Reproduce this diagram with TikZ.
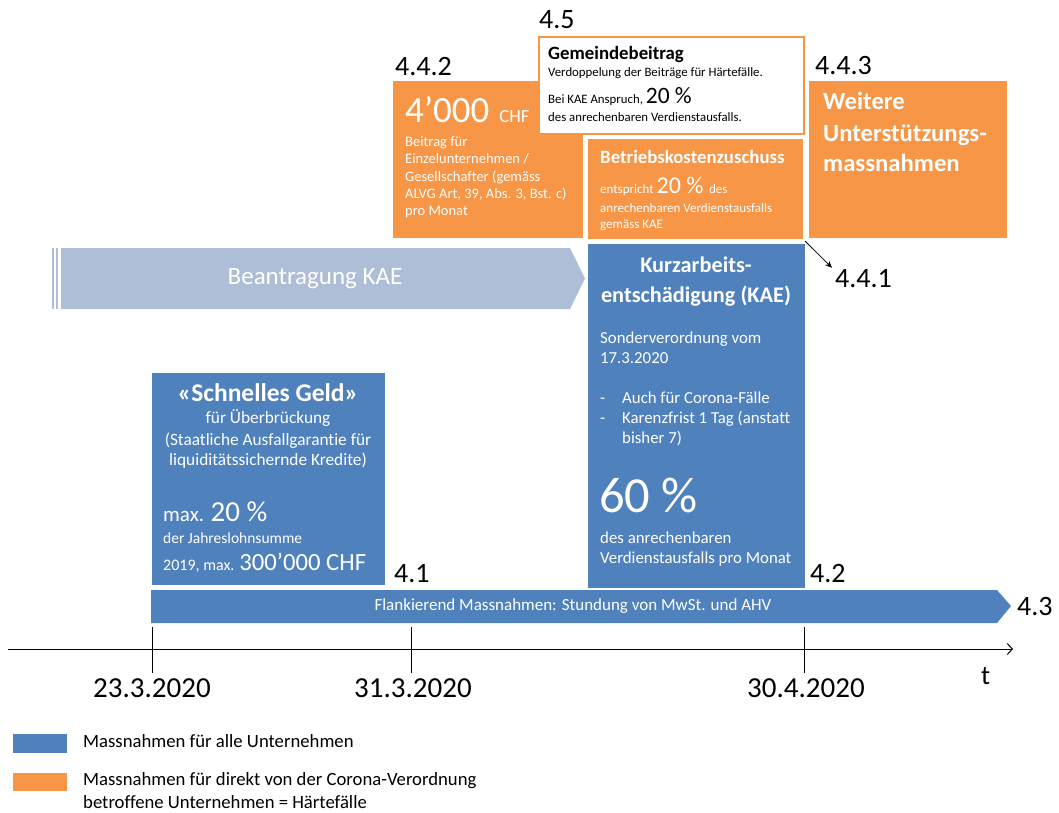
\documentclass[tikz,border=0pt]{standalone}
\usepackage{fontspec}
\setmainfont{Carlito}[Ligatures=NoCommon]
\usetikzlibrary{arrows.meta}
\definecolor{kblue}{HTML}{4F81BD}
\definecolor{korange}{HTML}{F79646}
\definecolor{klight}{HTML}{ADBED6}
\newcommand\fsz[1]{\fontsize{#1}{#1}\selectfont}
\begin{document}
\begin{tikzpicture}[x=1pt,y=-1pt,
  box/.style={draw=white, line width=1pt, inner sep=0pt, anchor=north west},
  obox/.style={box, fill=korange},
  bbox/.style={box, fill=kblue},
  wt/.style={inner sep=0pt, anchor=base west, text=white},
  wc/.style={inner sep=0pt, anchor=base, text=white},
  bt/.style={inner sep=0pt, anchor=base west, text=black},
  lbl/.style={bt, font=\fsz{28}},
  date/.style={inner sep=0pt, anchor=base, font=\fsz{29}},
  leg/.style={bt, font=\fsz{18.7}}]
\useasboundingbox (0,0) rectangle (1059,812);

% ---------- boxes ----------
\node[obox, minimum width=191pt, minimum height=158pt] (b442) at (392,80) {};
\node[box, fill=white, draw=korange, line width=2pt, minimum width=265pt, minimum height=97pt] (b45) at (538,36) {};
\node[obox, minimum width=216pt, minimum height=101pt] (bbk) at (587,138) {};
\node[obox, minimum width=199pt, minimum height=158pt] (b443) at (808,80) {};
\node[bbox, minimum width=218pt, minimum height=345pt] (bkae) at (587,243) {};
\node[bbox, minimum width=234pt, minimum height=213pt] (bsg) at (151,372) {};

% ---------- Beantragung arrow ----------
\fill[klight] (52,248) rectangle (53.5,309);
\fill[klight] (55.5,248) rectangle (58,309);
\fill[klight] (61,248) -- (570,248) -- (585,278.5) -- (570,309) -- (61,309) -- cycle;
\node[inner sep=0pt, text=white, font=\fsz{25}] (tbea) at (315,279) {Beantragung KAE};

% ---------- Flankierend arrow ----------
\fill[kblue] (151,590) -- (997,590) -- (1011,606) -- (997,623) -- (151,623) -- cycle;
\node[inner sep=0pt, text=white, font=\fsz{17}] (tfl) at (573,606) {Flankierend Massnahmen: Stundung von MwSt. und AHV};

% ---------- 4.4.2 text ----------
\node[wt] (t4000) at (405,122) {\fsz{37}4’000\hspace{10pt}\fsz{18.5}CHF};
\node[wt, font=\fsz{14.5}] (t442a) at (405,146) {Beitrag für};
\node[wt, font=\fsz{14.5}] (t442b) at (405,163) {Einzelunternehmen /};
\node[wt, font=\fsz{14.5}] (t442c) at (405,181) {Gesellschafter (gemäss};
\node[wt, font=\fsz{14.5}] (t442d) at (405,198) {ALVG Art, 39, Abs. 3, Bst. c)};
\node[wt, font=\fsz{14.5}] (t442e) at (405,215) {pro Monat};

% ---------- 4.5 text ----------
\node[bt, font=\fsz{18.8}\bfseries] (t45a) at (548,59) {Gemeindebeitrag};
\node[bt, font=\fsz{12.8}] (t45b) at (548,76) {Verdoppelung der Beiträge für Härtefälle.};
\node[bt] (t45c) at (548,103) {\fsz{12.8}Bei KAE Anspruch, \fsz{23.5}20 \%};
\node[bt, font=\fsz{12.8}] (t45d) at (548,121) {des anrechenbaren Verdienstausfalls.};

% ---------- Betriebskostenzuschuss ----------
\node[wt, font=\fsz{18.8}\bfseries] (tbka) at (600,163) {Betriebskostenzuschuss};
\node[wt] (tbkb) at (600,193) {\fsz{13}entspricht \fsz{24}20 \% \fsz{13}des};
\node[wt, font=\fsz{13}] (tbkc) at (600,212) {anrechenbaren Verdienstausfalls};
\node[wt, font=\fsz{13}] (tbkd) at (600,228) {gemäss KAE};

% ---------- Weitere ----------
\node[wt, font=\fsz{24.7}\bfseries] (twa) at (823,109) {Weitere};
\node[wt, font=\fsz{24.7}\bfseries] (twb) at (823,141) {Unterstützungs-};
\node[wt, font=\fsz{24.7}\bfseries] (twc) at (823,171) {massnahmen};

% ---------- KAE ----------
\node[wc, font=\fsz{22.3}\bfseries] (tka) at (696,272) {Kurzarbeits-};
\node[wc, font=\fsz{22.3}\bfseries] (tkb) at (696,302) {entschädigung (KAE)};
\node[wt, font=\fsz{16.8}] (tkc) at (600,343) {Sonderverordnung vom};
\node[wt, font=\fsz{16.8}] (tkd) at (600,363) {17.3.2020};
\node[wt, font=\fsz{16.8}] (tke0) at (600,403) {-};
\node[wt, font=\fsz{16.8}] (tke) at (622,403) {Auch für Corona-Fälle};
\node[wt, font=\fsz{16.8}] (tkf0) at (600,423) {-};
\node[wt, font=\fsz{16.8}] (tkf) at (622,423) {Karenzfrist 1 Tag (anstatt};
\node[wt, font=\fsz{16.8}] (tkg) at (622,443) {bisher 7)};
\node[wt, font=\fsz{50.5}] (tkh) at (599,512) {60 \%};
\node[wt, font=\fsz{16.8}] (tki) at (600,543) {des anrechenbaren};
\node[wt, font=\fsz{16.8}] (tkj) at (600,563) {Verdienstausfalls pro Monat};

% ---------- Schnelles Geld ----------
\node[wc, font=\fsz{25.5}\bfseries] (tsa) at (268,401) {«Schnelles Geld»};
\node[wc, font=\fsz{17.3}] (tsb) at (268,423) {für Überbrückung};
\node[wc, font=\fsz{17.3}] (tsc) at (268,445) {(Staatliche Ausfallgarantie für};
\node[wc, font=\fsz{17.3}] (tsd) at (268,465) {liquiditätssichernde Kredite)};
\node[wt] (tse) at (163,521) {\fsz{21}max. \fsz{29}20 \%};
\node[wt, font=\fsz{15.5}] (tsf) at (163,543) {der Jahreslohnsumme};
\node[wt] (tsg) at (163,570) {\fsz{16}2019, max. \fsz{24.7}300’000 CHF};

% ---------- number labels ----------
\node[lbl] (l442) at (395,75) {4.4.2};
\node[lbl] (l45) at (539,28) {4.5};
\node[lbl] (l443) at (815,74) {4.4.3};
\node[lbl] (l441) at (835,287) {4.4.1};
\node[lbl] (l41) at (394,582) {4.1};
\node[lbl] (l42) at (810,582) {4.2};
\node[lbl] (l43) at (1017,615) {4.3};
\coordinate (c441) at (805,241);
\draw[-{Stealth[length=7pt,width=6pt]}, line width=0.8pt] (c441) -- ([xshift=-3pt,yshift=1pt]l441.north west);

% ---------- timeline ----------
\coordinate (a0) at (8,649);
\coordinate (a1) at (1013,649);
\draw[line width=1pt, -{Straight Barb[length=5pt,width=11pt]}] (a0) -- (a1);
\coordinate (k1a) at (152,627); \coordinate (k1b) at (152,673);
\coordinate (k2a) at (411,627); \coordinate (k2b) at (411,673);
\coordinate (k3a) at (804,627); \coordinate (k3b) at (804,673);
\draw[line width=0.8pt] (k1a) -- (k1b);
\draw[line width=0.8pt] (k2a) -- (k2b);
\draw[line width=0.8pt] (k3a) -- (k3b);
\node[date] (d1) at (152,697) {23.3.2020};
\node[date] (d2) at (413,697) {31.3.2020};
\node[date] (d3) at (806,697) {30.4.2020};
\node[bt, font=\fsz{27}] (tt) at (981,684) {t};

% ---------- legend ----------
\node[box, draw=none, fill=kblue, minimum width=54pt, minimum height=19pt] (lgb) at (12,733) {};
\node[box, draw=none, fill=korange, minimum width=54pt, minimum height=18pt] (lgo) at (12,772) {};
\node[leg] (lgt1) at (83,747) {Massnahmen für alle Unternehmen};
\node[leg] (lgt2) at (83,785) {Massnahmen für direkt von der Corona-Verordnung};
\node[leg] (lgt3) at (83,808) {betroffene Unternehmen = Härtefälle};
\end{tikzpicture}
\end{document}
